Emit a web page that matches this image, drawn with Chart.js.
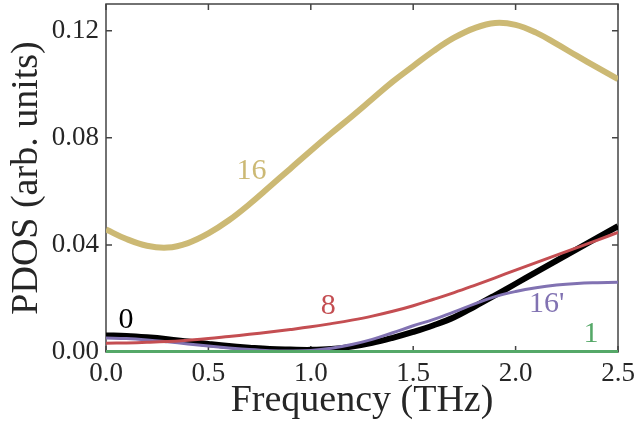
<!DOCTYPE html>
<html><head><meta charset="utf-8">
<script src="https://cdn.jsdelivr.net/npm/chart.js@4.4.1/dist/chart.umd.min.js"></script>
<style>html,body{margin:0;padding:0;background:#fff;}#wrap{width:636px;height:424px;}</style>
</head><body><div id="wrap"><canvas id="c" width="636" height="424"></canvas></div>
<script>
const freq = [0.0,0.1,0.2,0.3,0.4,0.5,0.6,0.7,0.8,0.9,1.0,1.1,1.2,1.3,1.4,1.5,1.6,1.7,1.8,1.9,2.0,2.1,2.2,2.3,2.4,2.5];
const pdos16 = [0.0458,0.0422,0.0397,0.0390,0.0407,0.0443,0.0492,0.0552,0.0618,0.0685,0.0752,0.0817,0.0880,0.0945,0.1010,0.1068,0.1125,0.1174,0.1210,0.1229,0.1222,0.1193,0.1151,0.1106,0.1062,0.1019];
const pdos8 = [0.0033,0.0034,0.0036,0.0039,0.0044,0.0050,0.0058,0.0066,0.0075,0.0084,0.0094,0.0106,0.0119,0.0134,0.0152,0.0173,0.0197,0.0222,0.0249,0.0277,0.0306,0.0334,0.0362,0.0390,0.0418,0.0447];
const pdos0 = [0.0062,0.0060,0.0055,0.0048,0.0039,0.0030,0.0022,0.0016,0.0011,0.0009,0.0008,0.0011,0.0020,0.0034,0.0053,0.0075,0.0100,0.0130,0.0170,0.0212,0.0255,0.0298,0.0341,0.0384,0.0427,0.0470];
const pdos16p = [0.0052,0.0050,0.0045,0.0038,0.0030,0.0022,0.0015,0.0009,0.0005,0.0004,0.0006,0.0014,0.0028,0.0047,0.0072,0.0098,0.0122,0.0150,0.0180,0.0207,0.0226,0.0240,0.0250,0.0256,0.0259,0.0261];
const pdos1 = [0.0002,0.0002,0.0002,0.0002,0.0002,0.0002,0.0002,0.0002,0.0002,0.0002,0.0002,0.0002,0.0002,0.0002,0.0002,0.0002,0.0002,0.0002,0.0002,0.0002,0.0002,0.0002,0.0002,0.0002,0.0002,0.0002];
const xTicks = [0.0,0.5,1.0,1.5,2.0,2.5];
const yTicks = [0.00,0.04,0.08,0.12];
const curveLabels = ["16","0","8","16'","1"];
const labelX = [0.711,0.098,1.085,2.152,2.368];
const labelY = [0.0675,0.0118,0.0171,0.0177,0.0065];
const labelColors = ["#ccb974","#000000","#c44e52","#8172b2","#55a868"];

const FONT = "'Liberation Serif', 'Times New Roman', serif";
const pts = arr => freq.map((f,i)=>({x:f,y:arr[i]}));

const framePlugin = {
  id:'frame',
  beforeDatasetsDraw(chart){
    const {ctx, chartArea:a, scales:{x,y}} = chart;
    ctx.save();
    ctx.strokeStyle = '#444';
    ctx.lineWidth = 1.5;
    ctx.beginPath();
    xTicks.forEach(v=>{const px=x.getPixelForValue(v); ctx.moveTo(px,a.bottom); ctx.lineTo(px,a.bottom-6); ctx.moveTo(px,a.top); ctx.lineTo(px,a.top+6);});
    yTicks.forEach(v=>{const py=y.getPixelForValue(v); ctx.moveTo(a.left,py); ctx.lineTo(a.left+6,py); ctx.moveTo(a.right,py); ctx.lineTo(a.right-6,py);});
    ctx.stroke();
    ctx.strokeRect(a.left,a.top,a.right-a.left,a.bottom-a.top);
    ctx.restore();
  },
  afterDatasetsDraw(chart){
    const {ctx, scales:{x,y}} = chart;
    ctx.save();
    ctx.font = "30px " + FONT;
    ctx.textAlign='center'; ctx.textBaseline='middle';
    curveLabels.forEach((t,i)=>{ctx.fillStyle=labelColors[i]; ctx.fillText(t, x.getPixelForValue(labelX[i]), y.getPixelForValue(labelY[i]));});
    ctx.restore();
  }
};

new Chart(document.getElementById('c'), {
  type:'line',
  data:{datasets:[
    {label:'1', data:pts(pdos1), borderColor:'#55a868', borderWidth:3, order:1, clip:4},
    {label:'16', data:pts(pdos16), borderColor:'#ccb974', borderWidth:6, order:2, clip:0},
    {label:'8', data:pts(pdos8), borderColor:'#c44e52', borderWidth:3, order:3, clip:0},
    {label:"16'", data:pts(pdos16p), borderColor:'#8172b2', borderWidth:3, order:4, clip:0},
    {label:'0', data:pts(pdos0), borderColor:'#000000', borderWidth:6, order:5, clip:0}
  ]},
  options:{
    responsive:false, animation:false,
    devicePixelRatio:1,
    layout:{padding:{left:0,top:4,right:18,bottom:0}},
    elements:{point:{radius:0}, line:{tension:0.4, fill:false}},
    plugins:{legend:{display:false}, tooltip:{enabled:false}},
    scales:{
      x:{type:'linear', min:0, max:2.5,
        afterBuildTicks(s){s.ticks = xTicks.map(v=>({value:v}));},
        afterFit(s){s.height = 72; s.paddingLeft = 0; s.paddingRight = 0;},
        grid:{display:false, drawTicks:false},
        border:{display:false},
        ticks:{color:'#262626', font:{family:FONT,size:27}, padding:6, maxRotation:0, autoSkip:false,
          callback:v=>v.toFixed(1)},
        title:{display:true, text:'Frequency (THz)', color:'#262626', font:{family:FONT,size:38}, padding:{top:-6,bottom:0}}
      },
      y:{type:'linear', min:0, max:0.13,
        afterBuildTicks(s){s.ticks = yTicks.map(v=>({value:v}));},
        afterFit(s){s.width = 106; s.paddingTop = 0; s.paddingBottom = 0;},
        grid:{display:false, drawTicks:false},
        border:{display:false},
        ticks:{color:'#262626', font:{family:FONT,size:27}, padding:7, autoSkip:false,
          callback:v=>v.toFixed(2)},
        title:{display:true, text:'PDOS (arb. units)', color:'#262626', font:{family:FONT,size:38}, padding:{top:4,bottom:0}}
      }
    }
  },
  plugins:[framePlugin]
});
</script></body></html>
